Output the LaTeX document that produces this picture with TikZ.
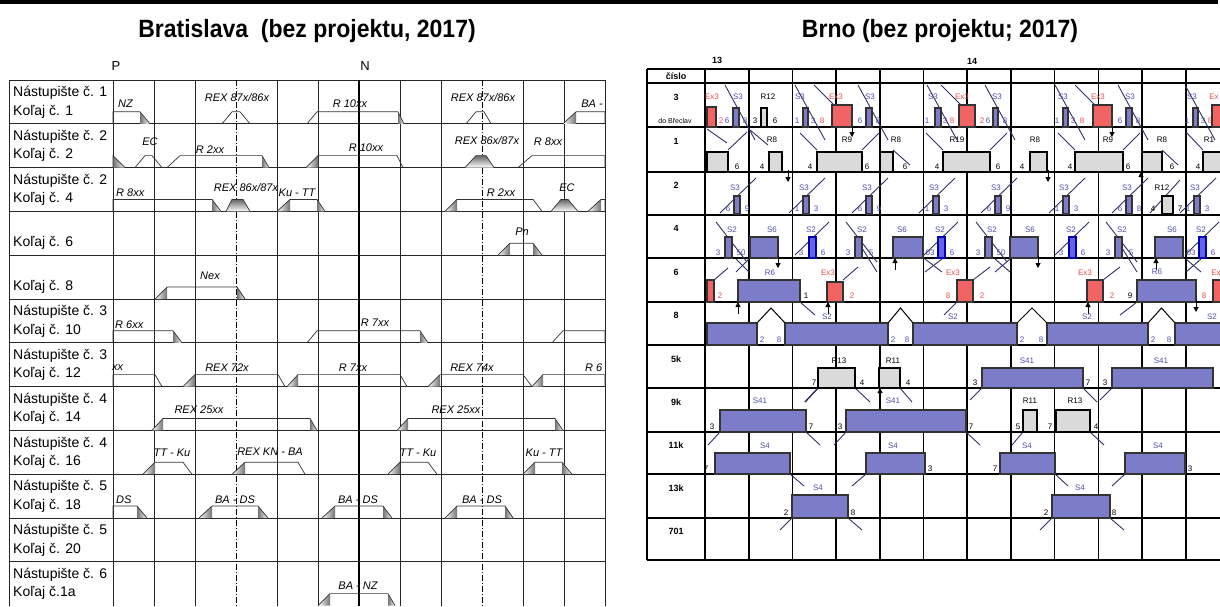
\documentclass[tikz,border=0pt]{standalone}
\usepackage{fontspec}
\setmainfont{Liberation Sans}
\newfontfamily\titlefont[FakeStretch=0.92]{Liberation Sans}
\usetikzlibrary{arrows.meta}
\definecolor{bfill}{RGB}{124,124,200}
\definecolor{brfill}{RGB}{100,100,230}
\definecolor{blab}{RGB}{80,80,170}
\definecolor{rfill}{RGB}{240,100,100}
\definecolor{rlab}{RGB}{235,80,80}
\definecolor{gfill}{RGB}{218,218,218}
\definecolor{dline}{RGB}{50,50,100}
\newcounter{nn}
\newcommand{\lbl}[4]{\stepcounter{nn}\node[#1] (n\arabic{nn}) at (#2,#3) {#4};}
\newcommand{\trn}[5]{\draw[trainln] (#1,#5) -- (#2,#5-12) -- (#3,#5-12) -- (#4,#5);}
\newcommand{\shL}[3]{\shade[left color=white,right color=black!55] (#1,#3) -- (#2,#3-12) -- (#2,#3) -- cycle;}
\newcommand{\shR}[3]{\shade[left color=black!55,right color=white] (#1,#3-12) -- (#2,#3) -- (#1,#3) -- cycle;}
\newcommand{\pk}[5]{\shade[top color=black!60,bottom color=white] (#1,#5) -- (#2,#5-12) -- (#3,#5-12) -- (#4,#5) -- cycle;\draw[trainln] (#1,#5) -- (#2,#5-12) -- (#3,#5-12) -- (#4,#5);}
\newcommand{\bx}[5]{\filldraw[#1] (#2,#3) rectangle (#4,#5);}
\newcommand{\whisk}[3]{\draw[diag] (#1-17,#3-19) -- (#1,#3-2);\draw[diag] (#2,#3-2) -- (#2+17,#3-19);}
\newcommand{\xmark}[4]{\draw[diag] (#1,#3) -- (#2,#4);\draw[diag] (#1,#4) -- (#2,#3);}
\begin{document}
\begin{tikzpicture}[x=1pt,y=-1pt,
  gridln/.style={line width=0.9pt,black!85},
  trainln/.style={line width=0.7pt,black!80},
  tlab/.style={font=\itshape\fontsize{11}{12}\selectfont,inner sep=0pt},
  rowlab/.style={font=\fontsize{14}{16}\selectfont,inner sep=0pt,anchor=west},
  rgrid/.style={line width=1.6pt,black},
  rtxt/.style={font=\fontsize{8}{9}\selectfont,inner sep=0pt},
  btxt/.style={rtxt,blab},
  redtxt/.style={rtxt,rlab},
  rhead/.style={font=\bfseries\fontsize{9}{10}\selectfont,inner sep=0pt},
  bluebox/.style={fill=bfill,draw=black!80,line width=1.1pt},
  brbox/.style={fill=brfill,draw=blue!70!black,line width=1.1pt},
  redbox/.style={fill=rfill,draw=black!80,line width=1.1pt},
  graybox/.style={fill=gfill,draw=black,line width=1.3pt},
  diag/.style={dline,line width=0.9pt},
  arr/.style={-{Triangle[length=5pt,width=5pt]},line width=0.9pt}]
\useasboundingbox (0,0) rectangle (1220,606);
\fill[white] (0,0) rectangle (1220,606);
% top rule
\draw[line width=4pt] (0,2) -- (1218,2);
% titles
\node[font=\titlefont\bfseries\fontsize{25}{28}\selectfont] (t1) at (307,31) {Bratislava\ \ (bez projektu, 2017)};
\node[font=\titlefont\bfseries\fontsize{25}{28}\selectfont] (t2) at (940,31) {Brno (bez projektu; 2017)};
% ================= LEFT PANEL =================
\node[font=\fontsize{13}{14}\selectfont] (P) at (116,66) {P};
\node[font=\fontsize{13}{14}\selectfont] (N) at (365,66) {N};
\foreach \i in {0,...,11} \draw[gridln] (9,80+43.8*\i) -- (605,80+43.8*\i);
\draw[gridln] (9,80) -- (9,606);
\draw[gridln] (113,80) -- (113,606);
\foreach \k in {1,2,4,5,7,8,10,11,12} \draw[gridln] (113+41*\k,80) -- (113+41*\k,606);
\draw[line width=1.5pt] (359,80) -- (359,606);
\foreach \k in {3,9} \draw[line width=0.8pt,dash pattern=on 6pt off 2pt on 1pt off 2pt] (113+41*\k,80) -- (113+41*\k,606);
% row labels
\foreach \t/\a/\b [count=\r from 0] in {1/{Nástupište č. 1}/{Koľaj č. 1},2/{Nástupište č. 2}/{Koľaj č. 2},3/{Nástupište č. 2}/{Koľaj č. 4},4/{}/{Koľaj č. 6},5/{}/{Koľaj č. 8},6/{Nástupište č. 3}/{Koľaj č. 10},7/{Nástupište č. 3}/{Koľaj č. 12},8/{Nástupište č. 4}/{Koľaj č. 14},9/{Nástupište č. 4}/{Koľaj č. 16},10/{Nástupište č. 5}/{Koľaj č. 18},11/{Nástupište č. 5}/{Koľaj č. 20},12/{Nástupište č. 6}/{Koľaj č.1a}}{
  \node[rowlab] (ra\t) at (13,80+43.8*\r+13) {\a};
  \node[rowlab] (rb\t) at (13,80+43.8*\r+31.5) {\b};
}
% row 1 (yb 123.8)
\shR{140}{150}{123.8}\trn{113}{113}{140}{150}{123.8}\lbl{tlab,anchor=west}{118}{104}{NZ}
\trn{222}{232}{240}{250}{123.8}\lbl{tlab}{237}{98}{REX 87x/86x}
\shR{398}{404}{123.8}\trn{307}{317}{398}{404}{123.8}\lbl{tlab}{350}{104}{R 10xx}
\trn{466}{476}{484}{491}{123.8}\lbl{tlab}{483}{98}{REX 87x/86x}
\shL{563}{576}{123.8}\trn{563}{576}{605}{605}{123.8}\lbl{tlab}{592}{104}{BA -}
% row 2 (yb 167.6)
\shR{113}{125}{167.6}\trn{113}{113}{113}{125}{167.6}
\trn{135}{145}{152}{162}{167.6}\lbl{tlab}{150}{142}{EC}
\shR{262}{269}{167.6}\trn{167}{180}{262}{269}{167.6}\lbl{tlab}{210}{150}{R 2xx}
\shL{306}{318}{167.6}\trn{306}{318}{397}{403}{167.6}\lbl{tlab}{366}{148}{R 10xx}
\pk{465}{476}{486}{494}{167.6}\lbl{tlab}{487}{141}{REX 86x/87x}
\trn{518}{532}{605}{605}{167.6}\lbl{tlab}{548}{142}{R 8xx}
% row 4 (yb 211.4)
\shR{212}{221}{211.4}\trn{113}{113}{212}{221}{211.4}\lbl{tlab,anchor=west}{116}{193}{R 8xx}
\pk{226}{232}{243}{250}{211.4}\lbl{tlab}{246}{188}{REX 86x/87x}
\shL{277}{290}{211.4}\shR{317}{325}{211.4}\trn{277}{290}{317}{325}{211.4}\lbl{tlab}{297}{193}{Ku - TT}
\shL{445}{457}{211.4}\trn{445}{457}{533}{542}{211.4}\lbl{tlab}{501}{193}{R 2xx}
\pk{551}{561}{568}{578}{211.4}\lbl{tlab}{567}{188}{EC}
\shL{588}{601}{211.4}\trn{588}{601}{605}{605}{211.4}
% row 6 (yb 255.2)
\shL{498}{510}{255.2}\shR{533}{542}{255.2}\trn{498}{510}{533}{542}{255.2}\lbl{tlab}{522}{232}{Pn}
% row 8 (yb 299)
\shL{155}{167}{299}\shR{237}{245}{299}\trn{155}{167}{237}{245}{299}\lbl{tlab}{210}{276}{Nex}
% row 10 (yb 342.8)
\shR{173}{182}{342.8}\trn{113}{113}{173}{182}{342.8}\lbl{tlab,anchor=west}{115}{325}{R 6xx}
\shR{420}{428}{342.8}\trn{307}{317}{420}{428}{342.8}\lbl{tlab}{375}{323}{R 7xx}
\trn{552}{563}{605}{605}{342.8}
% row 12 (yb 386.6)
\trn{113}{113}{155}{162}{386.6}\lbl{tlab,anchor=west}{112}{368}{xx}
\shL{183}{195}{386.6}\trn{183}{195}{278}{285}{386.6}\lbl{tlab}{227}{368}{REX 72x}
\shL{287}{298}{386.6}\trn{287}{298}{400}{407}{386.6}\lbl{tlab}{353}{368}{R 7xx}
\shL{428}{440}{386.6}\trn{428}{440}{523}{532}{386.6}\lbl{tlab}{472}{368}{REX 74x}
\shL{532}{543}{386.6}\trn{532}{543}{605}{605}{386.6}\lbl{tlab,anchor=west}{585}{368}{R 6}
% row 14 (yb 430.4)
\shL{152}{163}{430.4}\shR{310}{317}{430.4}\trn{152}{163}{310}{317}{430.4}\lbl{tlab}{199}{410}{REX 25xx}
\shL{397}{408}{430.4}\shR{555}{563}{430.4}\trn{397}{408}{555}{563}{430.4}\lbl{tlab}{456}{410}{REX 25xx}
% row 16 (yb 474.2)
\shL{143}{155}{474.2}\trn{143}{155}{183}{192}{474.2}\lbl{tlab}{172}{453}{TT - Ku}
\shL{232}{245}{474.2}\trn{232}{245}{298}{305}{474.2}\lbl{tlab}{270}{452}{REX KN - BA}
\shL{388}{400}{474.2}\trn{388}{400}{428}{437}{474.2}\lbl{tlab}{418}{453}{TT - Ku}
\shL{523}{535}{474.2}\shR{562}{572}{474.2}\trn{523}{535}{562}{572}{474.2}\lbl{tlab}{544}{453}{Ku - TT}
% row 18 (yb 518)
\shR{137}{147}{518}\trn{113}{113}{137}{147}{518}\lbl{tlab,anchor=west}{116}{500}{DS}
\shL{199}{212}{518}\shR{258}{268}{518}\trn{199}{212}{258}{268}{518}\lbl{tlab}{235}{500}{BA - DS}
\shL{322}{335}{518}\shR{383}{392}{518}\trn{322}{335}{383}{392}{518}\lbl{tlab}{358}{500}{BA - DS}
\shL{445}{457}{518}\shR{505}{513}{518}\trn{445}{457}{505}{513}{518}\lbl{tlab}{482}{500}{BA - DS}
% row 1a (yb 605.6)
\shL{318}{330}{605.6}\shR{388}{395}{605.6}\trn{318}{330}{388}{395}{605.6}\lbl{tlab}{358}{586}{BA - NZ}
% ================= RIGHT PANEL =================
\foreach \y in {69,83,127,172,215,258,302,345,388,432,474,518,560} \draw[rgrid] (647,\y) -- (1220,\y);
\draw[rgrid] (647,69) -- (647,560);
\foreach \k in {1,...,5,7,8,9,10,11} \draw[rgrid] (705+43.7*\k,69) -- (705+43.7*\k,560);
\draw[line width=2.4pt] (705,69) -- (705,560);
\draw[line width=2.4pt] (967,69) -- (967,560);
\node[rhead] (h13) at (717,60) {13};
\node[rhead] (h14) at (972,61) {14};
\node[rhead] (cis) at (676,76) {číslo};
\foreach \t/\y in {3/97,1/141,2/185,4/228,6/272,8/315,5k/359,9k/402,11k/445,13k/488,701/531} \node[rhead] (rl\t) at (676,\y) {\t};
\node[font=\fontsize{7}{8}\selectfont,inner sep=0pt] (dob) at (675,121) {do Břeclav};
% diagonals rows 3 / 1
\foreach \x in {733,803,866,935,993,1063,1126,1193} \draw[diag] (\x-8,85) -- (\x+22,140);
\foreach \x in {832,959,1093} \draw[diag] (\x-18,85) -- (\x+2,105);
\draw[diag] (707,129) -- (727,143);
\draw[diag] (728,150) -- (747,132);
\draw[diag] (750,130) -- (768,145);
\whisk{817}{862}{152}\whisk{943}{990}{152}\whisk{1075}{1123}{152}
\draw[diag] (893,150) -- (910,165);
\draw[diag] (1162,150) -- (1178,165);
\draw[diag] (1186,132) -- (1203,150);
% row 3
\bx{redbox}{707}{107}{716}{127}\lbl{redtxt}{712}{97}{Ex3}\lbl{redtxt}{721}{121}{2}
\bx{bluebox}{733}{108}{739}{127}\lbl{btxt}{738}{97}{S3}\lbl{btxt}{727}{121}{6}\lbl{btxt}{745}{121}{8}
\bx{graybox}{761}{108}{767}{127}\lbl{rtxt}{768}{97}{R12}\lbl{rtxt}{755}{121}{3}\lbl{rtxt}{775}{121}{6}
\bx{bluebox}{803}{108}{808}{127}\lbl{btxt}{800}{97}{S3}\lbl{btxt}{797}{121}{1}\lbl{btxt}{813}{121}{3}
\bx{redbox}{832}{105}{852}{127}\lbl{redtxt}{836}{97}{Ex3}\lbl{redtxt}{822}{121}{8}
\draw[arr] (852,127) -- (852,137);
\bx{bluebox}{866}{108}{872}{127}\lbl{btxt}{870}{97}{S3}\lbl{btxt}{860}{121}{6}\lbl{btxt}{878}{121}{8}
\bx{bluebox}{935}{108}{941}{127}\lbl{btxt}{933}{97}{S3}\lbl{btxt}{927}{121}{1}\lbl{btxt}{945}{121}{3}\lbl{redtxt}{952}{121}{8}
\bx{redbox}{959}{105}{975}{127}\lbl{redtxt}{962}{97}{Ex3}\lbl{redtxt}{982}{121}{2}
\bx{bluebox}{993}{108}{998}{127}\lbl{btxt}{997}{97}{S3}\lbl{btxt}{988}{121}{6}\lbl{btxt}{1005}{121}{8}
\bx{bluebox}{1063}{108}{1068}{127}\lbl{btxt}{1063}{97}{S3}\lbl{btxt}{1057}{121}{1}\lbl{btxt}{1073}{121}{3}\lbl{redtxt}{1082}{121}{8}
\bx{redbox}{1093}{105}{1112}{127}\lbl{redtxt}{1098}{97}{Ex3}
\draw[arr] (1112,127) -- (1112,137);
\bx{bluebox}{1126}{108}{1132}{127}\lbl{btxt}{1130}{97}{S3}\lbl{btxt}{1120}{121}{6}\lbl{btxt}{1138}{121}{8}
\bx{bluebox}{1193}{108}{1198}{127}\lbl{btxt}{1192}{97}{S3}\lbl{btxt}{1187}{121}{1}\lbl{btxt}{1203}{121}{3}\lbl{redtxt}{1210}{121}{8}
\bx{redbox}{1212}{105}{1222}{127}\lbl{redtxt}{1214}{97}{Ex}
% row 1
\bx{graybox}{707}{152}{728}{172}\lbl{rtxt}{737}{167}{6}
\bx{graybox}{769}{152}{782}{172}\lbl{rtxt}{772}{140}{R8}\lbl{rtxt}{762}{167}{4}
\draw[arr] (788,170) -- (788,182);
\bx{graybox}{817}{152}{862}{172}\lbl{rtxt}{847}{140}{R9}\lbl{rtxt}{810}{167}{4}\lbl{rtxt}{867}{167}{6}
\bx{graybox}{880}{152}{893}{172}\lbl{rtxt}{896}{140}{R8}\lbl{rtxt}{905}{167}{6}
\bx{graybox}{943}{152}{990}{172}\lbl{rtxt}{957}{140}{R19}\lbl{rtxt}{937}{167}{4}\lbl{rtxt}{998}{167}{6}
\bx{graybox}{1030}{152}{1047}{172}\lbl{rtxt}{1035}{140}{R8}\lbl{rtxt}{1022}{167}{4}
\draw[arr] (1048,170) -- (1048,182);
\bx{graybox}{1075}{152}{1123}{172}\lbl{rtxt}{1108}{140}{R9}\lbl{rtxt}{1070}{167}{4}\lbl{rtxt}{1128}{167}{6}
\bx{graybox}{1142}{152}{1162}{172}\lbl{rtxt}{1162}{140}{R8}\lbl{rtxt}{1172}{167}{6}
\draw[arr] (1141,186) -- (1141,172);
\bx{graybox}{1203}{152}{1222}{172}\lbl{rtxt}{1209}{140}{R1}\lbl{rtxt}{1198}{167}{4}
% row 2
\foreach \x/\a/\b in {734/6/9,803/1/3,866/6/9,933/1/3,995/6/9,1063/1/3,1126/6/8,1194/1/3}{
  \draw[diag] (\x-14,213) -- (\x+22,178);
  \bx{bluebox}{\x}{196}{\x+6}{214}\lbl{btxt}{\x+1}{188}{S3}\lbl{btxt}{\x-6}{209}{\a}\lbl{btxt}{\x+13}{209}{\b}}
\draw[diag] (1150,213) -- (1180,180);
\bx{graybox}{1162}{196}{1173}{214}\lbl{rtxt}{1162}{188}{R12}\lbl{rtxt}{1153}{209}{4}\lbl{rtxt}{1180}{209}{7}
% row 4
\foreach \x/\a/\b in {725/3/50,855/3/5,985/3/50,1115/3/5}{
  \draw[diag] (\x-9,222) -- (\x+22,262);
  \bx{bluebox}{\x}{237}{\x+7}{258}\lbl{btxt}{\x+7}{230}{S2}\lbl{btxt}{\x-7}{253}{\a}\lbl{btxt}{\x+16}{253}{\b}}
\foreach \x/\a/\b in {809/3/6,938/03/6,1069/3/6,1199/03/6}{
  \draw[diag] (\x-14,255) -- (\x+20,222);
  \bx{brbox}{\x}{237}{\x+7}{258}\lbl{btxt}{\x+2}{230}{S2}\lbl{btxt}{\x-8}{253}{\a}\lbl{btxt}{\x+14}{253}{\b}}
\xmark{736}{749}{259}{272}\xmark{925}{942}{259}{272}\xmark{995}{1010}{259}{272}\xmark{1186}{1201}{259}{272}
\draw[diag] (862,248) -- (877,272);
\draw[diag] (1122,248) -- (1137,272);
\bx{bluebox}{750}{237}{778}{258}\lbl{btxt}{772}{230}{S6}\draw[arr] (778,256) -- (778,268);
\bx{bluebox}{893}{237}{923}{258}\lbl{btxt}{902}{230}{S6}\draw[arr] (895,270) -- (895,258);
\bx{bluebox}{1010}{237}{1038}{258}\lbl{btxt}{1030}{230}{S6}\draw[arr] (1038,256) -- (1038,268);
\bx{bluebox}{1155}{237}{1183}{258}\lbl{btxt}{1172}{230}{S6}\draw[arr] (1156,270) -- (1156,258);
% row 6
\draw[diag] (714,280) -- (728,268);
\draw[diag] (843,280) -- (858,267);
\draw[diag] (973,280) -- (990,267);
\draw[diag] (1103,280) -- (1120,267);
\draw[diag] (800,302) -- (815,315);
\draw[diag] (957,302) -- (944,315);
\draw[diag] (1137,302) -- (1120,315);
\bx{redbox}{707}{280}{714}{302}\lbl{redtxt}{720}{296}{2}
\bx{bluebox}{738}{280}{800}{302}\lbl{btxt}{770}{273}{R6}\lbl{rtxt}{806}{296}{1}\draw[arr] (738,314) -- (738,302);
\bx{redbox}{827}{282}{843}{302}\lbl{redtxt}{828}{273}{Ex3}\lbl{redtxt}{852}{296}{2}\draw[arr] (828,314) -- (828,302);
\bx{redbox}{957}{280}{973}{302}\lbl{redtxt}{953}{273}{Ex3}\lbl{redtxt}{948}{296}{8}\lbl{redtxt}{982}{296}{2}
\bx{redbox}{1087}{280}{1103}{302}\lbl{redtxt}{1085}{273}{Ex3}\lbl{redtxt}{1112}{296}{2}\draw[arr] (1088,314) -- (1088,302);
\bx{bluebox}{1137}{280}{1196}{302}\lbl{btxt}{1157}{272}{R6}\lbl{rtxt}{1130}{296}{9}\draw[arr] (1196,300) -- (1196,312);
\bx{redbox}{1213}{280}{1222}{302}\lbl{redtxt}{1204}{296}{8}\lbl{redtxt}{1216}{273}{Ex}
% row 8
\bx{bluebox}{707}{323}{757}{345}
\bx{bluebox}{785}{323}{888}{345}
\bx{bluebox}{913}{323}{1017}{345}
\bx{bluebox}{1047}{323}{1148}{345}
\bx{bluebox}{1175}{323}{1222}{345}
\foreach \a/\b in {757/785,888/913,1017/1047,1148/1175}{
  \draw[line width=1pt] (\a,323) -- ({(\a+\b)/2},308) -- (\b,323);
  \lbl{btxt}{\a+5}{340}{2}\lbl{btxt}{\b-6}{340}{8}}
\foreach \x in {827,953,1087,1212} \lbl{btxt}{\x}{317}{S2}
% rows 5k..13k diagonals
\draw[diag] (818,388) -- (805,402);
\draw[diag] (855,388) -- (870,402);
\draw[diag] (900,388) -- (912,402);
\draw[diag] (982,388) -- (970,400);
\draw[diag] (1083,388) -- (1097,402);
\draw[diag] (1112,388) -- (1100,400);
\draw[diag] (720,432) -- (708,445);
\draw[diag] (806,432) -- (820,445);
\draw[diag] (846,432) -- (834,445);
\draw[diag] (966,432) -- (980,445);
\draw[diag] (1023,432) -- (1012,445);
\draw[diag] (1090,432) -- (1104,445);
\draw[diag] (790,474) -- (804,486);
\draw[diag] (866,474) -- (852,486);
\draw[diag] (1055,474) -- (1068,486);
\draw[diag] (1125,474) -- (1112,486);
\draw[diag] (792,518) -- (780,530);
\draw[diag] (848,518) -- (862,530);
\draw[diag] (1052,518) -- (1040,530);
\draw[diag] (1110,518) -- (1124,530);
% row 5k
\bx{graybox}{818}{368}{855}{388}\lbl{rtxt}{839}{361}{R13}\lbl{rtxt}{814}{383}{7}\lbl{rtxt}{862}{383}{4}
\bx{graybox}{879}{368}{900}{388}\lbl{rtxt}{893}{361}{R11}\lbl{rtxt}{908}{383}{4}\draw[arr] (880,400) -- (880,388);
\bx{bluebox}{982}{368}{1083}{388}\lbl{btxt}{1027}{361}{S41}\lbl{rtxt}{975}{383}{3}\lbl{rtxt}{1088}{383}{7}
\bx{bluebox}{1112}{368}{1213}{388}\lbl{btxt}{1161}{361}{S41}\lbl{rtxt}{1105}{383}{3}
% row 9k
\bx{bluebox}{720}{410}{806}{432}\lbl{btxt}{760}{401}{S41}\lbl{rtxt}{712}{427}{3}\lbl{rtxt}{811}{427}{7}
\bx{bluebox}{846}{410}{966}{432}\lbl{btxt}{893}{401}{S41}\lbl{rtxt}{840}{427}{3}\lbl{rtxt}{971}{427}{7}
\bx{graybox}{1023}{410}{1037}{432}\lbl{rtxt}{1030}{401}{R11}\lbl{rtxt}{1018}{427}{5}
\bx{graybox}{1056}{410}{1090}{432}\lbl{rtxt}{1075}{401}{R13}\lbl{rtxt}{1050}{427}{7}\lbl{rtxt}{1096}{427}{4}
% row 11k
\bx{bluebox}{715}{453}{790}{474}\lbl{btxt}{765}{446}{S4}\lbl{rtxt}{706}{469}{7}
\bx{bluebox}{866}{453}{925}{474}\lbl{btxt}{893}{446}{S4}\lbl{rtxt}{930}{469}{3}
\bx{bluebox}{1000}{453}{1055}{474}\lbl{btxt}{1027}{446}{S4}\lbl{rtxt}{995}{469}{7}
\bx{bluebox}{1125}{453}{1185}{474}\lbl{btxt}{1158}{446}{S4}\lbl{rtxt}{1190}{469}{3}
% row 13k
\bx{bluebox}{792}{495}{848}{518}\lbl{btxt}{818}{488}{S4}\lbl{rtxt}{786}{513}{2}\lbl{rtxt}{853}{513}{8}
\bx{bluebox}{1052}{495}{1110}{518}\lbl{btxt}{1080}{488}{S4}\lbl{rtxt}{1046}{513}{2}\lbl{rtxt}{1114}{513}{8}
\end{tikzpicture}
\end{document}
